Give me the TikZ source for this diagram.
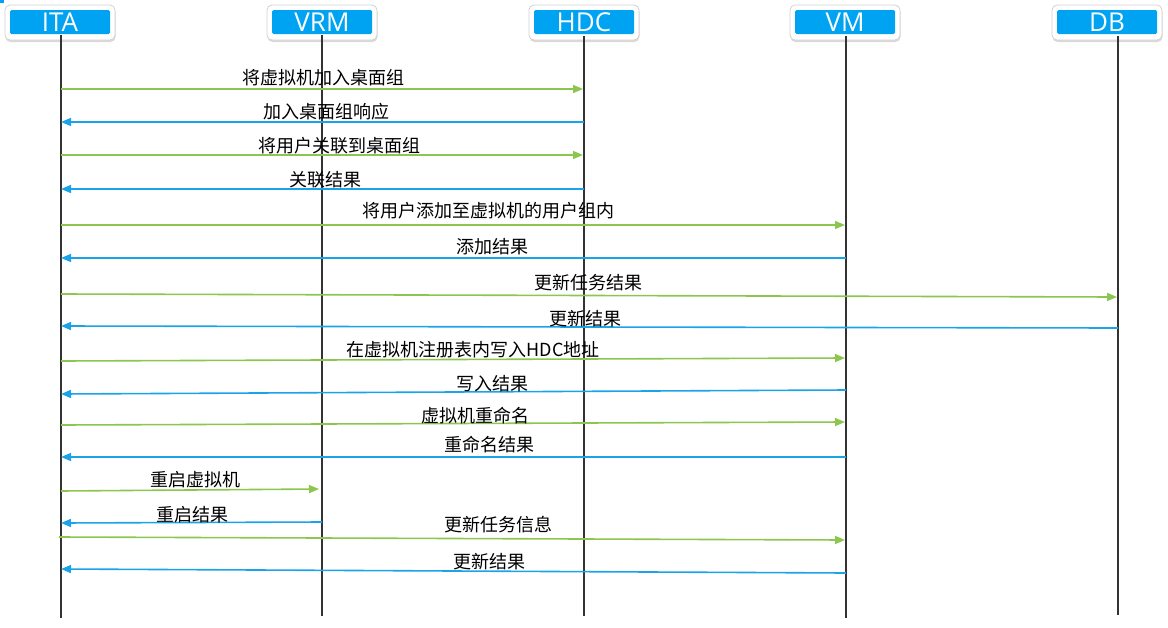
\documentclass[tikz,border=0pt]{standalone}
\usepackage{fontspec}
\setmainfont{Open Sans}
\newfontfamily\cjk{Noto Sans CJK SC}
\usetikzlibrary{arrows.meta,shadows}
\definecolor{hdrblue}{HTML}{00A3F2}
\definecolor{msggreen}{HTML}{8DC64E}
\definecolor{msgblue}{HTML}{1AA3E8}
\definecolor{lifegray}{HTML}{333333}
\tikzset{
  frame/.style={fill=white, draw=black!18, line width=0.8pt, rounded corners=5pt, minimum width=110pt, minimum height=35pt, inner sep=0pt,
    drop shadow={shadow xshift=0.5pt, shadow yshift=-2pt, opacity=0.3, fill=gray}},
  hdr/.style={fill=hdrblue, text=white, rounded corners=1.5pt, minimum width=100pt, minimum height=24pt,
    inner sep=0pt, font=\fontsize{26}{26}\selectfont},
  life/.style={draw=lifegray, line width=1.3pt},
  msgG/.style={draw=msggreen, line width=1.6pt, -{Triangle[length=10pt,width=8pt]}},
  msgB/.style={draw=msgblue, line width=1.6pt, -{Triangle[length=10pt,width=8pt]}},
  lbl/.style={font=\cjk\fontsize{18}{18}\selectfont, text=black, inner sep=0pt}
}
\begin{document}
\begin{tikzpicture}[x=1pt,y=-1pt]
\useasboundingbox (0,0) rectangle (1168,627);
\fill[hdrblue] (0,0) rectangle (4,3);
% headers
\foreach \n/\x in {ITA/60, VRM/322, HDC/584, VM/845, DB/1107}{
  \node[frame] (f\n) at (\x,22.5) {};
}
\node[hdr] (ITA) at (60,22) {ITA};
\node[hdr] (VRM) at (322,22) {VRM};
\node[hdr] (HDC) at (584,22) {HDC};
\node[hdr] (VM) at (845,22) {VM};
\node[hdr] (DB) at (1107,22) {DB};
% lifelines
\coordinate (ITAb) at (61,618);
\coordinate (VRMb) at (322,616);
\coordinate (HDCb) at (584,616);
\coordinate (VMb) at (846,618);
\coordinate (DBb) at (1118,615);
\coordinate (ITAt) at (61,35);
\coordinate (VRMt) at (322,35);
\coordinate (HDCt) at (584,36);
\coordinate (VMt) at (846,36);
\coordinate (DBt) at (1118,36);
\draw[life] (ITAt) -- (ITAb);
\draw[life] (VRMt) -- (VRMb);
\draw[life] (HDCt) -- (HDCb);
\draw[life] (VMt) -- (VMb);
\draw[life] (DBt) -- (DBb);
% messages
\coordinate (a1) at (61,89);   \coordinate (b1) at (583,89);
\coordinate (a2) at (61,122);  \coordinate (b2) at (584,122);
\coordinate (a3) at (61,155);  \coordinate (b3) at (583,155);
\coordinate (a4) at (61,189);  \coordinate (b4) at (584,189);
\coordinate (a5) at (61,225);  \coordinate (b5) at (845,225);
\coordinate (a6) at (61,258);  \coordinate (b6) at (846,258);
\coordinate (a7) at (61,294);  \coordinate (b7) at (1117,297);
\coordinate (a8) at (61,326);  \coordinate (b8) at (1118,328);
\coordinate (a9) at (61,361);  \coordinate (b9) at (845,358);
\coordinate (a10) at (61,394); \coordinate (b10) at (846,390);
\coordinate (a11) at (61,425); \coordinate (b11) at (845,422);
\coordinate (a12) at (61,457); \coordinate (b12) at (846,457);
\coordinate (a13) at (61,491); \coordinate (b13) at (319,489);
\coordinate (a14) at (61,523); \coordinate (b14) at (322,522);
\coordinate (a15) at (59,537); \coordinate (b15) at (845,540);
\coordinate (a16) at (61,569); \coordinate (b16) at (846,573);
\draw[msgG] (a1) -- (b1);
\draw[msgB] (b2) -- (a2);
\draw[msgG] (a3) -- (b3);
\draw[msgB] (b4) -- (a4);
\draw[msgG] (a5) -- (b5);
\draw[msgB] (b6) -- (a6);
\draw[msgG] (a7) -- (b7);
\draw[msgB] (b8) -- (a8);
\draw[msgG] (a9) -- (b9);
\draw[msgB] (b10) -- (a10);
\draw[msgG] (a11) -- (b11);
\draw[msgB] (b12) -- (a12);
\draw[msgG] (a13) -- (b13);
\draw[msgB] (b14) -- (a14);
\draw[msgG] (a15) -- (b15);
\draw[msgB] (b16) -- (a16);
% labels
\node[lbl] (l1) at (323,78) {将虚拟机加入桌面组};
\node[lbl] (l2) at (326,112) {加入桌面组响应};
\node[lbl] (l3) at (339,146) {将用户关联到桌面组};
\node[lbl] (l4) at (325,180) {关联结果};
\node[lbl] (l5) at (488,211) {将用户添加至虚拟机的用户组内};
\node[lbl] (l6) at (492,247) {添加结果};
\node[lbl] (l7) at (588,283) {更新任务结果};
\node[lbl] (l8) at (585,319) {更新结果};
\node[lbl] (l9) at (473,350) {在虚拟机注册表内写入HDC地址};
\node[lbl] (l10) at (492,384) {写入结果};
\node[lbl] (l11) at (475,416) {虚拟机重命名};
\node[lbl] (l12) at (489,445) {重命名结果};
\node[lbl] (l13) at (195,480) {重启虚拟机};
\node[lbl] (l14) at (192,515) {重启结果};
\node[lbl] (l15) at (498,525) {更新任务信息};
\node[lbl] (l16) at (489,562) {更新结果};
\end{tikzpicture}
\end{document}
